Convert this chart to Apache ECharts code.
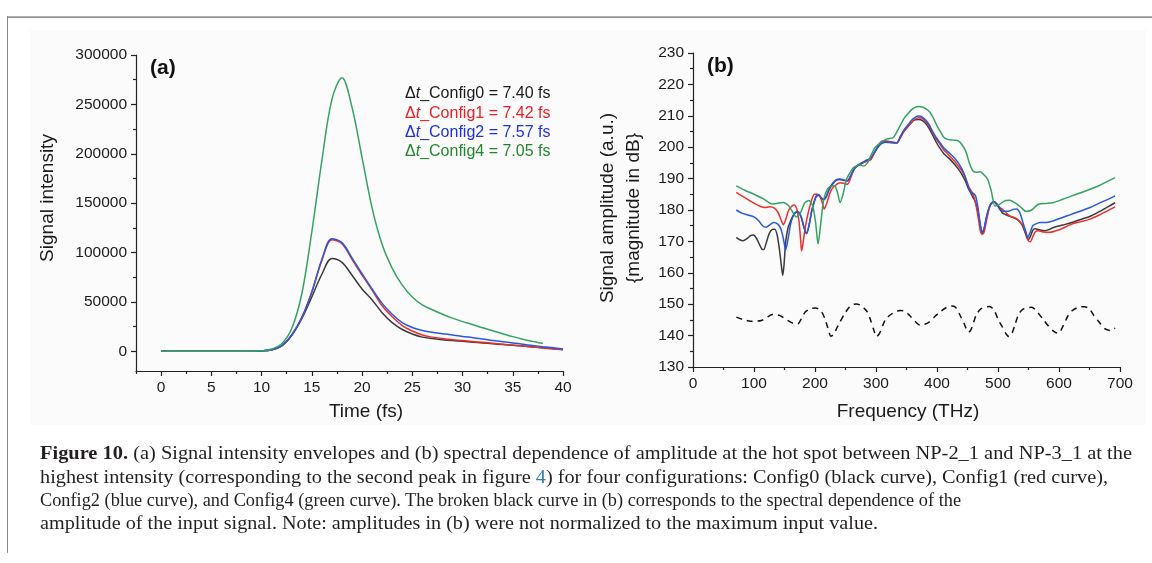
<!DOCTYPE html>
<html>
<head>
    <meta charset="utf-8">
    <title>Figure 10</title>
    <script src="https://cdn.jsdelivr.net/npm/echarts@6.0.0/dist/echarts.min.js"></script>
    <style>
        html, body { margin: 0; padding: 0; background: #fff; }
        #wrap { position: relative; width: 1152px; height: 563px; overflow: hidden; }
        #main { position: absolute; left: 0; top: 0; width: 1152px; height: 563px; }
        .ln {
            position: absolute; left: 40px; height: 22px; line-height: 22px;
            font-family: "Liberation Serif", "DejaVu Serif", serif; font-size: 18px;
            color: #231f20; white-space: nowrap; transform-origin: 0 50%;
        }
        .ln b { font-weight: bold; }
        .ln .ref { color: #2c7bb6; }
    </style>
</head>
<body>
<div id="wrap">
    <div id="main"></div>
    <div class="ln" style="top:442px" data-w="1092"><b>Figure 10.</b> (a) Signal intensity envelopes and (b) spectral dependence of amplitude at the hot spot between NP-2_1 and NP-3_1 at the</div>
    <div class="ln" style="top:466px" data-w="1068">highest intensity (corresponding to the second peak in figure <span class="ref">4</span>) for four configurations: Config0 (black curve), Config1 (red curve),</div>
    <div class="ln" style="top:489px" data-w="921">Config2 (blue curve), and Config4 (green curve). The broken black curve in (b) corresponds to the spectral dependence of the</div>
    <div class="ln" style="top:512px" data-w="838">amplitude of the input signal. Note: amplitudes in (b) were not normalized to the maximum input value.</div>
</div>
<script>
    // (a) signal intensity vs time
    var timeFs = [0, 1, 2, 3, 4, 5, 6, 7, 8, 9, 10, 11, 12, 13, 14, 15, 16, 17, 18, 19, 20,
        21, 22, 23, 24, 25, 26, 27, 28, 29, 30, 31, 32, 33, 34, 35, 36, 37, 38, 39, 40];
    var intensityConfig0 = [0, 0, 0, 0, 0, 0, 0, 0, 0, 0, 300, 1500, 5500, 16000, 33000, 55000, 78000, 94000, 90000, 77000, 63000,
        52000, 39000, 29000, 22000, 17500, 14300, 12800, 11700, 10800, 10000, 9200, 8400, 7600, 6800, 6000, 5200, 4400, 3600, 2700, 1800];
    var intensityConfig1 = [0, 0, 0, 0, 0, 0, 0, 0, 0, 0, 300, 1500, 5500, 16500, 34000, 60000, 92000, 113000, 109000, 93000, 77000,
        62000, 46000, 35000, 26000, 20500, 16500, 14300, 12800, 11600, 10800, 9900, 9000, 8100, 7200, 6200, 5200, 4200, 3200, 2300, 1400];
    var intensityConfig2 = [0, 0, 0, 0, 0, 0, 0, 0, 0, 0, 300, 1500, 5500, 16500, 34000, 60000, 93000, 114000, 110000, 94500, 78500,
        63000, 48500, 37500, 29000, 24000, 21000, 19200, 17800, 16400, 15000, 13800, 12500, 11000, 9700, 8400, 7100, 5800, 4600, 3500, 2400];
    var intensityConfig4 = [0, 0, 0, 0, 0, 0, 0, 0, 0, 0, 400, 2200, 7500, 23000, 58000, 121000, 193000, 255000, 277000, 247000, 196000,
        145000, 108000, 84000, 67000, 55000, 47000, 42000, 37500, 33500, 30000, 27000, 23800, 20800, 17800, 14800, 12200, 10000, 7800];

    var timeMajor = [0, 5, 10, 15, 20, 25, 30, 35, 40];
    var timeMinor = [-2.5, 2.5, 7.5, 12.5, 17.5, 22.5, 27.5, 32.5, 37.5];
    var intensityMajor = [0, 50000, 100000, 150000, 200000, 250000, 300000];
    var intensityMinor = [25000, 75000, 125000, 175000, 225000, 275000];

    var legendLines = ['Config0 = 7.40 fs', 'Config1 = 7.42 fs', 'Config2 = 7.57 fs', 'Config4 = 7.05 fs'];

    // (b) spectral amplitude
    var freqConfig0 = [71, 76, 82, 88, 94, 99, 104, 109, 113, 116, 120, 125, 130, 134, 138, 142, 145, 147, 149, 152, 156, 160, 165, 170, 174, 178, 182, 186, 190, 195,
        202, 206, 210, 214, 218, 223, 229, 235, 241, 247, 253, 258, 263, 268, 275, 281, 286, 292, 298, 304, 310, 316, 322, 328, 334, 340, 346, 352, 358, 364,
        370, 376, 382, 387, 393, 399, 405, 411, 417, 423, 429, 435, 441, 447, 451, 455, 459, 463, 467, 471, 474, 477, 481, 486, 490, 494, 499, 503, 507, 513,
        519, 525, 531, 536, 540, 545, 549, 553, 557, 561, 569, 577, 584, 591, 606, 621, 636, 651, 666, 680, 692];
    var ampConfig0 = [171.3, 170.6, 170.2, 170.8, 171.8, 172, 171, 169, 167.5, 167.4, 169.5, 172.5, 173.8, 173.9, 172, 167, 162, 159.2, 162, 170, 174.5, 176.5, 178.5, 179.3, 179, 177.3, 174.3, 172.4, 174.8, 180,
        184.3, 184.6, 183.8, 183.2, 184, 186.4, 188.3, 189.5, 189.7, 189.5, 189.2, 190.6, 192.6, 193.8, 194.6, 195.3, 195.8, 196.5, 198.4, 200.2, 201.3, 201.6, 201.5, 201.4, 201.3, 203.2, 205.1, 206.6, 207.9, 208.7,
        208.8, 208.5, 207.5, 206, 203.8, 201.5, 199.6, 198, 196.9, 195.8, 194.5, 193, 191.3, 189, 187, 185.5, 184, 182.5, 179.5, 175, 172.6, 173.8, 177.5, 181, 182.3, 182.5, 181.4, 180.2, 179.1, 178.5,
        178, 177.6, 177.1, 176.2, 175, 172.5, 170.5, 171.5, 173.5, 174, 173.6, 173.4, 173.8, 174.4, 175.2, 176, 177, 178, 179.5, 181, 182.3];

    var freqConfig1 = [71, 80, 90, 100, 110, 118, 126, 134, 140, 145, 148, 152, 157, 162, 166, 170, 174, 177, 178, 180, 184, 190, 195, 199, 204, 208, 212, 215, 219, 226,
        233, 241, 247, 253, 259, 264, 268, 275, 280, 286, 292, 298, 304, 310, 316, 322, 328, 334, 340, 346, 352, 358, 364, 370, 376, 382, 387, 393, 399, 405,
        411, 417, 423, 429, 435, 441, 447, 452, 456, 460, 464, 468, 471, 474, 477, 481, 486, 490, 494, 499, 503, 507, 513, 519, 525, 531, 537, 541, 546, 550,
        553, 557, 561, 566, 575, 585, 600, 621, 636, 651, 666, 680, 692];
    var ampConfig1 = [185.6, 184.5, 183.3, 182.2, 181.2, 180.8, 181, 180.5, 179, 176.5, 175.3, 177, 180, 181.2, 181.6, 180.5, 176, 169, 167, 169, 174.5, 180, 183.5, 185, 185, 184.5, 182.3, 180.3, 182, 186.1,
        187.8, 188.7, 188.5, 188.2, 190.5, 193, 194, 194.8, 195.2, 195.6, 196.1, 198.5, 200.6, 202, 202, 201.8, 201.6, 201.4, 203, 205.1, 206.4, 207.8, 208.9, 209.4, 209.2, 208.2, 206.7, 204.6, 202.6, 200.9,
        199.2, 198, 196.7, 195.5, 194, 192.4, 190, 187.5, 186.1, 184.5, 181.5, 177, 173.4, 172.3, 172.8, 176.5, 180.8, 182.2, 182.6, 181.8, 180.8, 180.3, 179.2, 178.1, 177.7, 177.1, 176, 175, 172.5, 170.2,
        169.9, 171.5, 173, 173.4, 173, 172.9, 173.7, 175.5, 176.3, 177.1, 178.4, 179.8, 181];

    var freqConfig2 = [71, 80, 90, 100, 108, 114, 120, 126, 132, 139, 144, 148, 152, 156, 160, 165, 170, 174, 178, 182, 186, 190, 195, 202, 206, 210, 214, 218, 223, 229,
        235, 241, 247, 253, 258, 263, 268, 275, 281, 286, 292, 298, 304, 310, 316, 322, 328, 334, 340, 346, 352, 358, 364, 370, 376, 382, 387, 393, 399, 405,
        411, 417, 423, 429, 435, 441, 447, 451, 455, 459, 463, 467, 471, 474, 477, 481, 486, 490, 494, 499, 503, 507, 513, 519, 525, 531, 536, 540, 545, 549,
        553, 557, 561, 569, 577, 584, 591, 606, 621, 636, 651, 666, 680, 692];
    var ampConfig2 = [180, 179, 178.4, 177.8, 176.5, 175, 174.5, 175.3, 176, 175.5, 174, 171, 167.3, 171, 175.5, 178.5, 179.5, 179.2, 177.5, 174.5, 172.6, 175, 180, 184.5, 184.8, 184, 183.4, 184.2, 186.6, 188.5,
        189.7, 189.9, 189.6, 189.3, 190.8, 192.8, 194, 194.8, 195.5, 196, 196.7, 198.6, 200.4, 201.4, 201.7, 201.6, 201.5, 201.4, 203.5, 205.5, 207, 208.5, 209.5, 209.9, 209.6, 208.5, 207.2, 205, 203, 201.4,
        199.8, 198.7, 197.7, 196.5, 195, 193, 190.2, 187.5, 185.8, 185.4, 184.6, 181, 175.5, 172.9, 174, 177.8, 181, 182.4, 182.6, 181.6, 180.6, 179.7, 179.6, 179.7, 180.2, 180.3, 179, 176.6, 173.5, 171.3,
        173, 175, 175.5, 176, 176, 176.2, 176.6, 177.6, 178.7, 179.7, 180.8, 182.2, 183.4, 184.5];

    var freqConfig4 = [71, 85, 100, 115, 130, 140, 148, 156, 162, 169, 176, 183, 190, 196, 201, 205, 209, 214, 220, 226, 232, 237, 241, 246, 251, 256, 262, 268, 274, 280,
        286, 292, 298, 304, 310, 316, 322, 328, 334, 340, 346, 352, 358, 364, 370, 376, 382, 388, 394, 400, 405, 411, 417, 423, 430, 435, 441, 447, 453, 459,
        465, 471, 477, 483, 489, 495, 501, 507, 513, 519, 525, 531, 538, 546, 555, 567, 580, 591, 606, 621, 636, 651, 666, 680, 692];
    var ampConfig4 = [187.7, 186.3, 185, 183.6, 181.9, 182.2, 182.4, 181.5, 179.8, 177.8, 179, 182.2, 183, 181.5, 176, 169.2, 175, 183, 186.6, 187.6, 187.7, 185.5, 182.4, 185, 189.5, 191.4, 193.3, 194, 194.3, 194,
        195, 197.5, 199.8, 200.9, 201.9, 202.5, 202.8, 203, 204.8, 207, 209.2, 210.6, 211.9, 212.7, 213, 212.8, 212.2, 211.2, 209.3, 206.8, 205.1, 203.2, 202.5, 202.3, 202.2, 202, 200.8, 198.8, 195, 192.4,
        192, 192.2, 191.2, 189.8, 186, 181.3, 181.6, 182.4, 183, 183.1, 182.6, 181.9, 180.8, 179.5, 180, 181.9, 182.1, 182.4, 183.4, 184.5, 185.5, 186.6, 187.8, 189.2, 190.3];

    var freqInput = [71, 82, 94, 104, 112, 121, 130, 138, 145, 152, 160, 166, 172, 178, 184, 192, 201, 206, 211, 216, 221, 226, 231, 236, 241, 248, 256, 262, 268, 275,
        281, 286, 291, 296, 301, 306, 311, 316, 325, 334, 340, 346, 352, 357, 363, 368, 372, 380, 387, 396, 405, 414, 423, 430, 438, 444, 448, 452, 456, 460,
        465, 472, 479, 486, 493, 501, 507, 513, 518, 523, 528, 534, 541, 548, 555, 561, 567, 574, 582, 590, 597, 601, 607, 615, 622, 629, 636, 642, 650, 657,
        665, 675, 684, 692];
    var ampInput = [145.9, 145.1, 144.6, 144.6, 144.8, 145.8, 146.7, 146.6, 146.1, 145.2, 144.3, 143.8, 143.8, 145.5, 147.5, 148.5, 148.8, 148.4, 147.5, 145.5, 142.5, 139.8, 140.5, 142.5, 144.3, 146.8, 149, 149.9, 150.1, 149.6,
        148.6, 147.5, 145, 142, 139.7, 140.8, 143.2, 145.3, 146.8, 147.8, 148, 147.8, 147, 146, 144.8, 143.8, 143.3, 143.6, 144.3, 146, 147.5, 148.8, 149.4, 149.1, 146.4, 144, 142.2, 141.1, 142, 144.2,
        146.9, 148.5, 149.1, 149.3, 148.3, 144.8, 142.8, 140.6, 139.7, 140.8, 143.5, 146.9, 148.4, 148.9, 149, 148.3, 146.9, 145.2, 143.2, 141.6, 140.8, 141, 143.2, 146.4, 148, 148.8, 149.2, 149.2, 148.5, 146.4,
        144.5, 142.2, 141.6, 142.4];

    var colors = ['#3a3a3a', '#e8302c', '#2a58d8', '#33a262'];
    var textColors = ['#1a1a1a', '#ee1c24', '#1f2fe0', '#23862f'];
    var axisColor = '#222';
    var fontSans = '"Liberation Sans", Arial, sans-serif';

    function pairs(xs, ys) {
        return ys.map(function (y, i) { return [xs[i], y]; });
    }

    function axisBase(extra) {
        var base = {
            axisLine: {show: true, onZero: false, lineStyle: {color: axisColor, width: 1.2}},
            axisTick: {show: true, length: 5, lineStyle: {color: axisColor, width: 1.2}},
            axisLabel: {color: '#1a1a1a', fontSize: 15.5, fontFamily: fontSans, margin: 9},
            splitLine: {show: false}
        };
        return Object.assign(base, extra);
    }

    // overlay axis that only carries the short in-between ticks
    function minorAxis(extra) {
        var base = {
            type: 'value',
            axisLine: {show: false, onZero: false},
            splitLine: {show: false},
            axisLabel: {show: false}
        };
        return Object.assign(base, extra);
    }

    var myChart = echarts.init(document.getElementById('main'));
    var option;

    var lineNamesA = ['Config0', 'Config1', 'Config2', 'Config4'];
    var intensities = [intensityConfig0, intensityConfig1, intensityConfig2, intensityConfig4];
    var freqs = [freqConfig0, freqConfig1, freqConfig2, freqConfig4];
    var amps = [ampConfig0, ampConfig1, ampConfig2, ampConfig4];

    var series = [];
    intensities.forEach(function (arr, k) {
        series.push({
            name: lineNamesA[k] + ' (a)', type: 'line', xAxisIndex: 0, yAxisIndex: 0,
            data: pairs(timeFs, arr), showSymbol: false, smooth: 0.35,
            lineStyle: {color: colors[k], width: 1.5}, silent: true
        });
    });
    freqs.forEach(function (fr, k) {
        series.push({
            name: lineNamesA[k] + ' (b)', type: 'line', xAxisIndex: 2, yAxisIndex: 2,
            data: pairs(fr, amps[k]), showSymbol: false, smooth: 0.25,
            lineStyle: {color: colors[k], width: 1.5}, silent: true
        });
    });
    series.push({
        name: 'Input', type: 'line', xAxisIndex: 2, yAxisIndex: 2,
        data: pairs(freqInput, ampInput), showSymbol: false, smooth: 0.25,
        lineStyle: {color: '#111', width: 1.5, type: [6, 5]}, silent: true
    });

    var graphics = [
        {type: 'rect', shape: {x: 30, y: 30, width: 1116, height: 395}, style: {fill: '#fbfbfb'}, z: -10, silent: true},
        {type: 'text', x: 150, y: 68, style: {text: '(a)', font: 'bold 21px ' + fontSans, fill: '#111', textVerticalAlign: 'middle', verticalAlign: 'middle'}},
        {type: 'text', x: 707, y: 66, style: {text: '(b)', font: 'bold 21px ' + fontSans, fill: '#111', textVerticalAlign: 'middle', verticalAlign: 'middle'}},
        {type: 'text', x: 48, y: 198, rotation: Math.PI / 2, style: {text: 'Signal intensity', font: '19px ' + fontSans, fill: '#1a1a1a', textAlign: 'center', align: 'center', textVerticalAlign: 'middle', verticalAlign: 'middle'}},
        {type: 'text', x: 366, y: 412, style: {text: 'Time (fs)', font: '19px ' + fontSans, fill: '#1a1a1a', textAlign: 'center', align: 'center', textVerticalAlign: 'middle', verticalAlign: 'middle'}},
        {type: 'text', x: 608, y: 208, rotation: Math.PI / 2, style: {text: 'Signal amplitude (a.u.)', font: '19px ' + fontSans, fill: '#1a1a1a', textAlign: 'center', align: 'center', textVerticalAlign: 'middle', verticalAlign: 'middle'}},
        {type: 'text', x: 634, y: 208, rotation: Math.PI / 2, style: {text: '{magnitude in dB}', font: '19px ' + fontSans, fill: '#1a1a1a', textAlign: 'center', align: 'center', textVerticalAlign: 'middle', verticalAlign: 'middle'}},
        {type: 'text', x: 908, y: 412, style: {text: 'Frequency (THz)', font: '19px ' + fontSans, fill: '#1a1a1a', textAlign: 'center', align: 'center', textVerticalAlign: 'middle', verticalAlign: 'middle'}}
    ];
    // legend lines of panel (a), drawn as text
    legendLines.forEach(function (txt, k) {
        graphics.push({
            type: 'text', x: 405, y: 94 + k * 19.3,
            style: {
                text: 'Δ{i|t}_' + txt,
                font: '16px ' + fontSans, fill: textColors[k],
                textVerticalAlign: 'middle', verticalAlign: 'middle',
                rich: {i: {fontStyle: 'italic', fontSize: 16, fontFamily: fontSans, fill: textColors[k]}}
            }
        });
    });

    option = {
        animation: false,
        backgroundColor: '#ffffff',
        grid: [
            {left: 136, top: 55, width: 427, height: 316},
            {left: 693, top: 53, width: 427, height: 314}
        ],
        xAxis: [
            axisBase({
                type: 'value', gridIndex: 0, min: -2.5, max: 40,
                axisTick: {show: true, length: 5, customValues: timeMajor, lineStyle: {color: axisColor, width: 1.2}},
                axisLabel: {customValues: timeMajor, color: '#1a1a1a', fontSize: 15.5, fontFamily: fontSans, margin: 9}
            }),
            minorAxis({
                gridIndex: 0, min: -2.5, max: 40, position: 'bottom',
                axisTick: {show: true, length: 3, customValues: timeMinor, lineStyle: {color: axisColor, width: 1.2}}
            }),
            axisBase({
                type: 'value', gridIndex: 1, min: 0, max: 700, interval: 100,
                minorTick: {show: true, splitNumber: 2, length: 3, lineStyle: {color: axisColor, width: 1.2}}
            })
        ],
        yAxis: [
            axisBase({
                type: 'value', gridIndex: 0, min: -20000, max: 300000,
                axisTick: {show: true, length: 5, customValues: intensityMajor, lineStyle: {color: axisColor, width: 1.2}},
                axisLabel: {customValues: intensityMajor, color: '#1a1a1a', fontSize: 15.5, fontFamily: fontSans, margin: 9,
                    formatter: function (v) { return String(v); }}
            }),
            minorAxis({
                gridIndex: 0, min: -20000, max: 300000, position: 'left',
                axisTick: {show: true, length: 3, customValues: intensityMinor, lineStyle: {color: axisColor, width: 1.2}}
            }),
            axisBase({
                type: 'value', gridIndex: 1, min: 130, max: 230, interval: 10,
                minorTick: {show: true, splitNumber: 2, length: 3, lineStyle: {color: axisColor, width: 1.2}}
            })
        ],
        graphic: graphics,
        series: series
    };

    option && myChart.setOption(option);

    // squeeze caption lines to the widths of the printed figure
    var lines = document.querySelectorAll('.ln');
    for (var i = 0; i < lines.length; i++) {
        var w = lines[i].getBoundingClientRect().width;
        var target = parseFloat(lines[i].getAttribute('data-w'));
        lines[i].style.transform = 'scaleX(' + (target / w) + ')';
    }
</script>
<div style="position:absolute;left:7px;top:16px;width:1145px;height:1px;background:#8c8c8c;border-top:1px solid #b5b5b5;"></div>
<div style="position:absolute;left:7px;top:16px;width:1px;height:537px;background:#8c8c8c;"></div>
</body>
</html>
